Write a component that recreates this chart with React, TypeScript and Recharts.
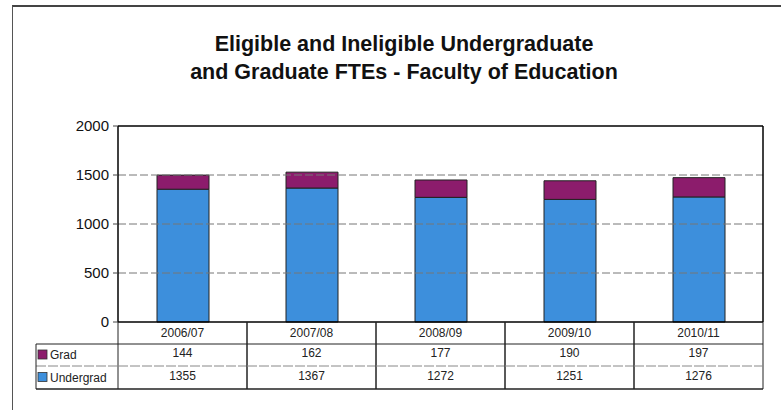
import React from 'react';
import { BarChart, Bar, XAxis, YAxis, ReferenceLine } from 'recharts';

const categories = ['2006/07', '2007/08', '2008/09', '2009/10', '2010/11'];
const gradValues = [144, 162, 177, 190, 197];
const undergradValues = [1355, 1367, 1272, 1251, 1276];
const yTicks = [0, 500, 1000, 1500, 2000];
const gridValues = [500, 1000, 1500];
const seriesNames = ['Grad', 'Undergrad'];

const GRAD_COLOR = '#8c1c6c';
const UG_COLOR = '#3d8fdc';

const data = categories.map((c, i) => ({ cat: c, Grad: gradValues[i], Undergrad: undergradValues[i] }));

const W = 781;
const H = 410;
const PLOT_LEFT = 118;
const PLOT_RIGHT = 763;
const PLOT_TOP = 126;
const PLOT_BOTTOM = 322;
const COL_W = (PLOT_RIGHT - PLOT_LEFT) / categories.length;
const ROW1 = 344;
const ROW2 = 366;
const ROW3 = 389;
const LABEL_LEFT = 36;
const FONT = 'Liberation Sans, Arial, sans-serif';

const TableTick = (props: any) => {
  const { x, index } = props;
  const left = x - COL_W / 2;
  const right = x + COL_W / 2;
  const line = '#222';
  return (
    <g>
      {index === categories.length - 1 && (
        <line x1={right} y1={PLOT_TOP} x2={right} y2={PLOT_BOTTOM} stroke="#000" strokeWidth={1.5} />
      )}
      <line x1={left} y1={PLOT_BOTTOM} x2={left} y2={ROW3} stroke={line} strokeWidth={1} />
      <line x1={right} y1={PLOT_BOTTOM} x2={right} y2={ROW3} stroke={line} strokeWidth={1} />
      <line x1={left} y1={ROW1} x2={right} y2={ROW1} stroke={line} strokeWidth={1} />
      <line x1={left} y1={ROW2} x2={right} y2={ROW2} stroke="#888" strokeWidth={1} strokeDasharray="10 2" />
      <line x1={left} y1={ROW3} x2={right} y2={ROW3} stroke={line} strokeWidth={1.5} />
      <text x={x} y={(PLOT_BOTTOM + ROW1) / 2 + 4} textAnchor="middle" fontSize={12} fill="#222" fontFamily={FONT}>
        {categories[index]}
      </text>
      <text x={x} y={(ROW1 + ROW2) / 2 + 2} textAnchor="middle" fontSize={12} fill="#222" fontFamily={FONT}>
        {gradValues[index]}
      </text>
      <text x={x} y={(ROW2 + ROW3) / 2 + 2} textAnchor="middle" fontSize={12} fill="#222" fontFamily={FONT}>
        {undergradValues[index]}
      </text>
      {index === 0 && (
        <g>
          <line x1={LABEL_LEFT} y1={ROW1} x2={left} y2={ROW1} stroke={line} strokeWidth={1} />
          <line x1={LABEL_LEFT} y1={ROW2} x2={left} y2={ROW2} stroke="#888" strokeWidth={1} strokeDasharray="10 2" />
          <line x1={LABEL_LEFT} y1={ROW3} x2={left} y2={ROW3} stroke={line} strokeWidth={1.5} />
          <line x1={LABEL_LEFT} y1={ROW1} x2={LABEL_LEFT} y2={ROW3} stroke={line} strokeWidth={1} />
          <rect x={LABEL_LEFT + 2} y={(ROW1 + ROW2) / 2 - 5} width={9} height={9} fill={GRAD_COLOR} stroke="#333" strokeWidth={0.8} />
          <text x={LABEL_LEFT + 14} y={(ROW1 + ROW2) / 2 + 4} fontSize={12} fill="#222" fontFamily={FONT}>
            {seriesNames[0]}
          </text>
          <rect x={LABEL_LEFT + 2} y={(ROW2 + ROW3) / 2 - 5} width={9} height={9} fill={UG_COLOR} stroke="#333" strokeWidth={0.8} />
          <text x={LABEL_LEFT + 14} y={(ROW2 + ROW3) / 2 + 4} fontSize={12} fill="#222" fontFamily={FONT}>
            {seriesNames[1]}
          </text>
        </g>
      )}
    </g>
  );
};

export default function App() {
  return (
    <div style={{ position: 'fixed', left: 0, top: 0, width: W, height: H, background: '#fff', overflow: 'hidden' }}>
      <div
        style={{
          position: 'absolute',
          left: 12,
          top: 5,
          width: W - 12,
          height: H - 5,
          borderLeft: '1.5px solid #555',
          borderTop: '2px solid #444',
          boxSizing: 'border-box',
        }}
      />
      <div
        style={{
          position: 'absolute',
          left: 28,
          top: 30,
          width: 752,
          textAlign: 'center',
          fontFamily: FONT,
          fontWeight: 'bold',
          fontSize: 21.5,
          lineHeight: '28px',
          color: '#111',
        }}
      >
        <div>Eligible and Ineligible Undergraduate</div>
        <div>and Graduate FTEs - Faculty of Education</div>
      </div>
      <div style={{ position: 'absolute', left: 0, top: 0 }}>
        <BarChart
          width={W}
          height={H}
          data={data}
          margin={{ top: PLOT_TOP, right: W - PLOT_RIGHT, bottom: 0, left: PLOT_LEFT - 60 }}
        >
          {gridValues.map((v) => (
            <ReferenceLine key={v} y={v} stroke="#777" strokeDasharray="8 3" />
          ))}
          <ReferenceLine y={2000} stroke="#000" strokeWidth={1.5} />
          <XAxis
            dataKey="cat"
            height={H - PLOT_BOTTOM}
            interval={0}
            tickLine={false}
            axisLine={{ stroke: '#000', strokeWidth: 1.5 }}
            tick={(p: any) => <TableTick {...p} />}
          />
          <YAxis
            width={60}
            domain={[0, 2000]}
            ticks={yTicks}
            tickSize={5}
            tickMargin={4}
            axisLine={{ stroke: '#000', strokeWidth: 1.5 }}
            tickLine={{ stroke: '#444' }}
            tick={{ fontSize: 15, fill: '#111', fontFamily: FONT }}
          />
          <Bar dataKey="Undergrad" stackId="a" fill={UG_COLOR} stroke="#222" strokeWidth={1} barSize={52} isAnimationActive={false} />
          <Bar dataKey="Grad" stackId="a" fill={GRAD_COLOR} stroke="#222" strokeWidth={1} barSize={52} isAnimationActive={false} />
        </BarChart>
      </div>
    </div>
  );
}
